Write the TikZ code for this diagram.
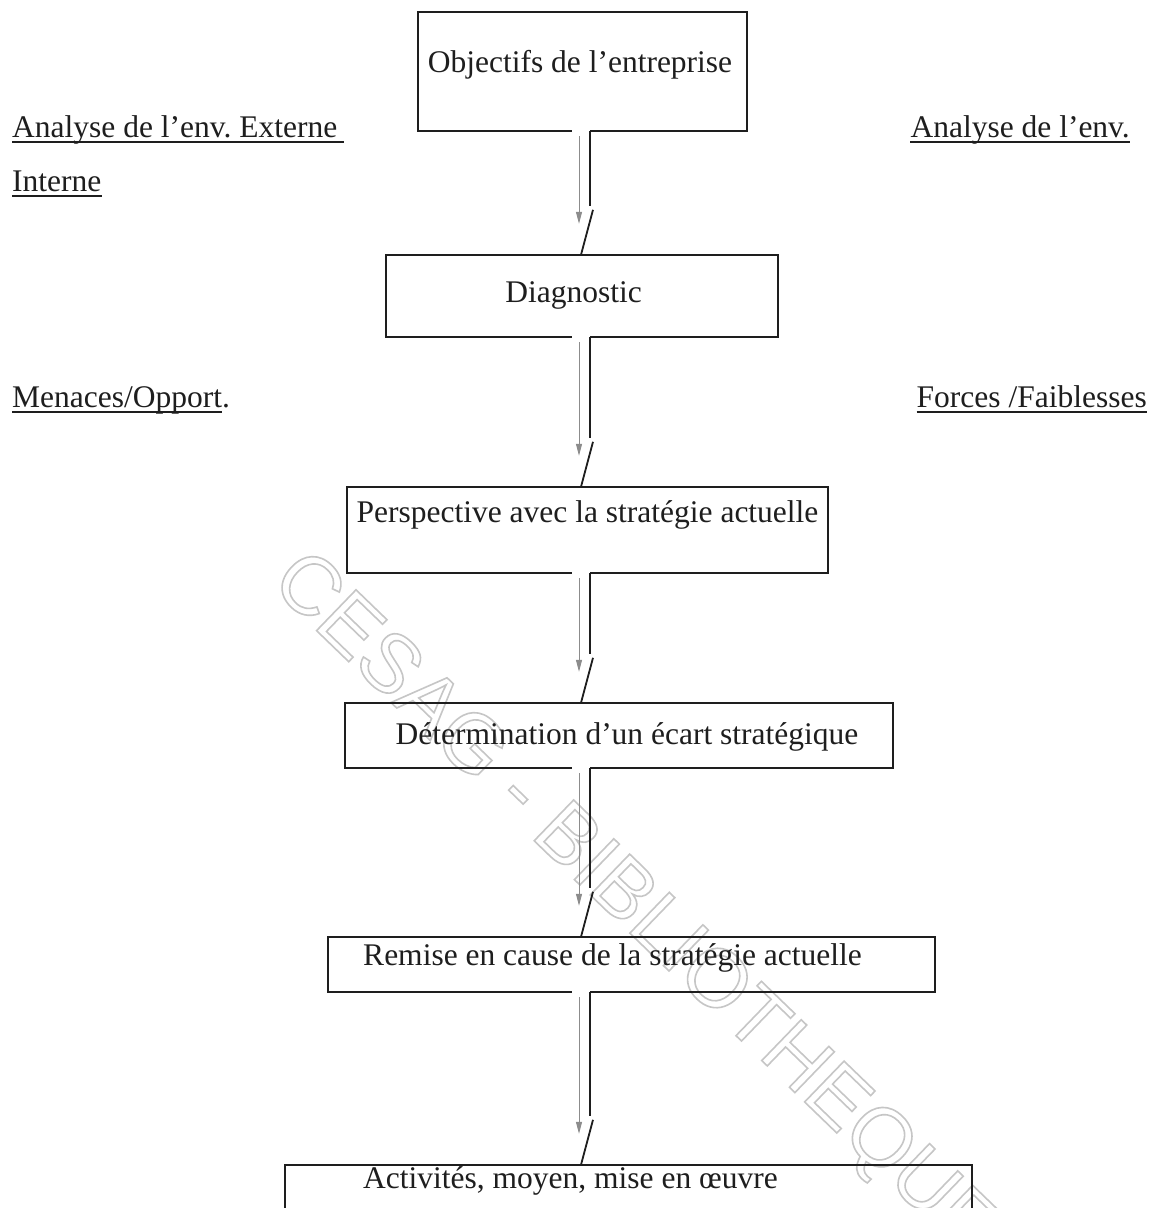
\documentclass[tikz,border=0pt]{standalone}
\usepackage{fontspec}
\setmainfont{Liberation Serif}
\newfontfamily\wmfont{Liberation Sans}
\usetikzlibrary{calc,arrows.meta}
\frenchspacing

\definecolor{ink}{HTML}{1E1E1E}
\definecolor{pencil}{HTML}{8C8C8C}
\definecolor{wmgrey}{HTML}{C6C6C6}

% outline (stroked, unfilled) text for the library stamp
\newcommand\hollowtext[1]{\special{pdf:literal direct 1 Tr 1.6 w}#1\special{pdf:literal direct 0 Tr}}

% box outline with an opening in the bottom edge where the link leaves
\newcommand\gapbox[1]{%
  \draw[frame] (#1.south -| gapR) -| (#1.north east) -| (#1.south west) -- (#1.south -| gapL);}

% link between two stacked boxes: heavy rail, pencil arrow, slanted tick
\newcommand\linkpair[2]{%
  \draw[rail] (#1.south -| gapR) -- ($(#2.north -| gapR)+(0,-49)$);
  \draw[pencilarrow] ($(#1.south -| guide)+(0,5)$) -- ($(#2.north -| guide)+(0,-31)$);
  \draw[rail] ($(#2.north -| gapR)+(3,-45)$) -- ($(#2.north -| gapR)+(-9,0)$);}

\begin{document}
\begin{tikzpicture}[x=1pt,y=-1pt,
  frame/.style={draw=ink, line width=1.8pt},
  rail/.style={draw=ink, line width=1.8pt},
  pencilarrow/.style={draw=pencil, line width=1pt,
    -{Triangle[length=12pt,width=6pt]}},
  boxshape/.style={rectangle, inner sep=0pt, draw=none},
  lbl/.style={inner sep=0pt, text=ink, font=\fontsize{31.5}{36}\selectfont},
  underl/.style={draw=ink, line width=1.5pt},
  stamp/.style={inner sep=0pt, text=wmgrey, rotate=-44,
    font=\wmfont\fontsize{82.5}{90}\selectfont}]

\useasboundingbox (0,0) rectangle (1158,1208);
\clip (0,0) rectangle (1158,1208);
\fill[white] (0,0) rectangle (1158,1208);

% library stamp across the page
\node[stamp] (stampnote) at (633,907) {\hollowtext{CESAG - BIBLIOTHEQUE}};

% x positions of the link rails
\coordinate (gapL) at (572,0);
\coordinate (guide) at (579,0);
\coordinate (gapR) at (590,0);

% boxes
\node[boxshape, minimum width=329pt, minimum height=119pt] (b1) at (582.5,71.5) {};
\node[boxshape, minimum width=392pt, minimum height=82pt]  (b2) at (582,296) {};
\node[boxshape, minimum width=481pt, minimum height=86pt]  (b3) at (587.5,530) {};
\node[boxshape, minimum width=548pt, minimum height=65pt]  (b4) at (619,735.5) {};
\node[boxshape, minimum width=607pt, minimum height=55pt]  (b5) at (631.5,964.5) {};
\node[boxshape, minimum width=687pt, minimum height=65pt]  (b6) at (628.5,1197.5) {};

\gapbox{b1}
\gapbox{b2}
\gapbox{b3}
\gapbox{b4}
\gapbox{b5}
\draw[frame] (b6.south west) |- (b6.north east) -- (b6.south east);

% box texts
\node[lbl, anchor=base] (t1) at (580,72)    {Objectifs de l’entreprise};
\node[lbl, anchor=base] (t2) at (573.5,302) {Diagnostic};
\node[lbl, anchor=base] (t3) at (587.5,522) {Perspective avec la stratégie actuelle};
\node[lbl, anchor=base] (t4) at (627,744)   {Détermination d’un écart stratégique};
\node[lbl, anchor=base] (t5) at (612.5,965) {Remise en cause de la stratégie actuelle};
\node[lbl, anchor=base] (t6) at (570.5,1188) {Activités, moyen, mise en œuvre};

% links
\linkpair{b1}{b2}
\linkpair{b2}{b3}
\linkpair{b3}{b4}
\linkpair{b4}{b5}
\linkpair{b5}{b6}

% side notes
\node[lbl, anchor=base west] (s1) at (12,137) {Analyse de l’env. Externe};
\node[lbl, anchor=base west] (s2) at (12,191) {Interne};
\node[lbl, anchor=base east] (s3) at (1130,137) {Analyse de l’env.};
\node[lbl, anchor=base west] (s4) at (12,407) {Menaces/Opport.};
\node[lbl, anchor=base east] (s5) at (1147,407) {Forces /Faiblesses};

\draw[underl] ([yshift=-5pt]s1.base west) -- ([xshift=7pt,yshift=-5pt]s1.base east);
\draw[underl] ([yshift=-5pt]s2.base west) -- ([yshift=-5pt]s2.base east);
\draw[underl] ([yshift=-5pt]s3.base west) -- ([yshift=-5pt]s3.base east);
\draw[underl] ([yshift=-5pt]s4.base west) -- ([xshift=-8pt,yshift=-5pt]s4.base east);
\draw[underl] ([yshift=-5pt]s5.base west) -- ([yshift=-5pt]s5.base east);

\end{tikzpicture}
\end{document}
